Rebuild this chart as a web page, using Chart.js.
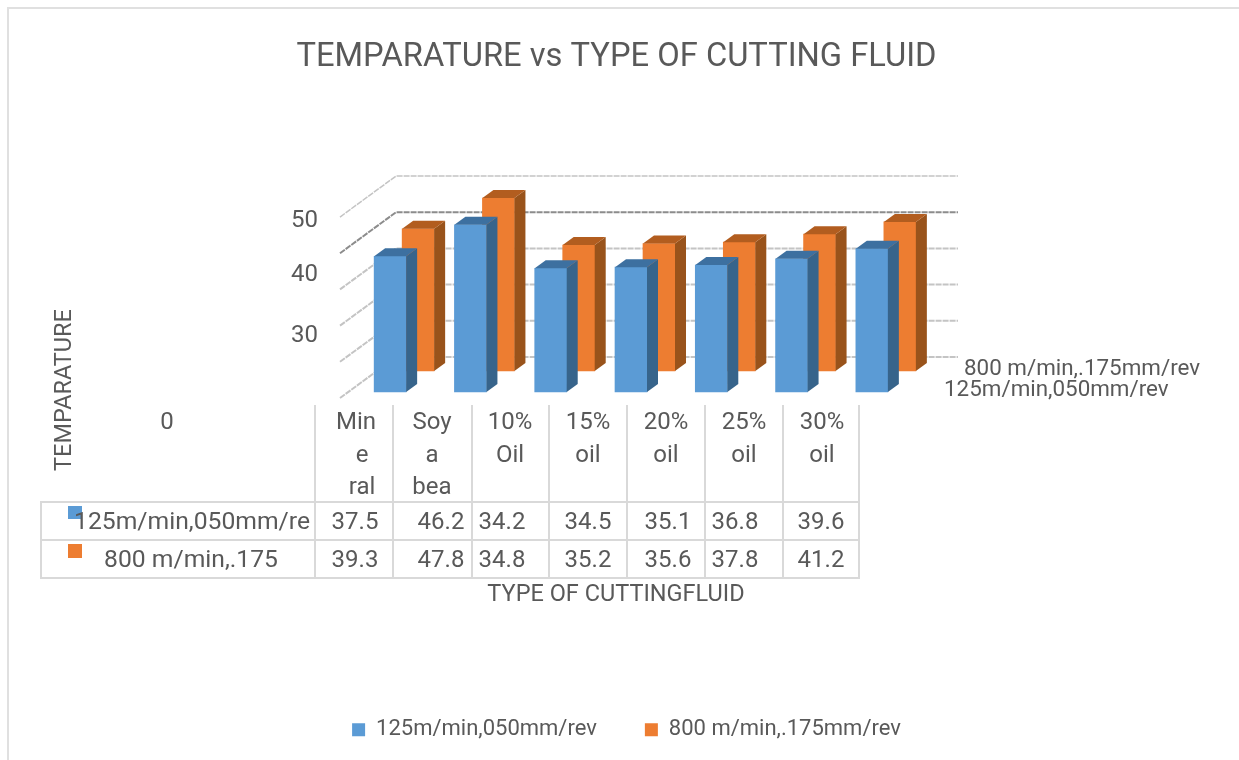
<!DOCTYPE html>
<html><head><meta charset="utf-8">
<style>html,body{margin:0;padding:0;background:#fff}canvas{display:block}</style>
<script src="https://cdn.jsdelivr.net/npm/chart.js@4"></script>
</head><body><canvas id="c" width="1239" height="760"></canvas>
<script>
const categories = ['Mineral','Soyabean','10% Oil','15% oil','20% oil','25% oil','30% oil'];
const headerLines = [['Min','e','ral'],['Soy','a','bea'],['10%','Oil'],['15%','oil'],['20%','oil'],['25%','oil'],['30%','oil']];
const seriesA = [37.5,46.2,34.2,34.5,35.1,36.8,39.6];
const seriesB = [39.3,47.8,34.8,35.2,35.6,37.8,41.2];
const seriesNames = ['125m/min,050mm/rev','800 m/min,.175mm/rev'];
const rowLabels = ['125m/min,050mm/re','800 m/min,.175'];
const yTickLabels = ['50','40','30'];
const titleText = 'TEMPARATURE vs TYPE OF CUTTING FLUID';
const xTitle = 'TYPE OF CUTTINGFLUID';
const yTitle = 'TEMPARATURE';

const FONT = 'Roboto, "Open Sans", sans-serif';
const TXT = '#595959';
const COL = {
  a:{front:'#5B9BD5',side:'#37648B',top:'#3D70A0'},
  b:{front:'#ED7D31',side:'#99531B',top:'#B25D1F'}
};
const DEPTH = {x:11,y:8};
const BACK = {x:28,y:-21};
const FONT_T = 24;

function put(ctx,s,x,y,size,align){
  ctx.font = size+'px '+FONT; ctx.fillStyle = TXT;
  ctx.textAlign = align||'center'; ctx.textBaseline='middle';
  ctx.fillText(s,x,y+2);
}
const scene = {
  id:'scene',
  afterLayout(chart){
    const l = chart.legend;
    l.left += 10; l.right += 10;
    l.top = 732 - 13.2 - chart.options.plugins.legend.labels.padding;
  },
  beforeDraw(chart){
    const ctx = chart.ctx;
    ctx.save();
    ctx.strokeStyle='#e0e0e0'; ctx.lineWidth=2;
    ctx.beginPath(); ctx.moveTo(8,760); ctx.lineTo(8,8); ctx.lineTo(1239,8); ctx.stroke();
    ctx.restore();
  },
  beforeDatasetsDraw(chart){
    const ctx = chart.ctx, y = chart.scales.y;
    ctx.save();
    ctx.setLineDash([6,1]);
    y.ticks.forEach(t=>{
      const p = y.getPixelForValue(t.value);
      const back = p-35, front = p+6;
      ctx.lineWidth = t.value===50 ? 1.5 : 2;
      ctx.strokeStyle = t.value===40 ? '#8c8c8c' : '#c4c4c4';
      ctx.beginPath(); ctx.moveTo(340,front); ctx.lineTo(396,back); ctx.lineTo(958,back); ctx.stroke();
    });
    ctx.restore();
  },
  beforeDatasetDraw(chart,args){
    const ctx = chart.ctx;
    ctx.save();
    if(args.index===1) ctx.translate(BACK.x,BACK.y);
  },
  afterDatasetDraw(chart,args){
    const ctx = chart.ctx;
    const c = args.index===0 ? COL.a : COL.b;
    args.meta.data.forEach(bar=>{
      const p = bar.getProps(['x','y','base','width'],true);
      const r = p.x+p.width/2, l = p.x-p.width/2;
      ctx.fillStyle = c.side;
      ctx.beginPath(); ctx.moveTo(r,p.y); ctx.lineTo(r+DEPTH.x,p.y-DEPTH.y); ctx.lineTo(r+DEPTH.x,p.base-DEPTH.y); ctx.lineTo(r,p.base); ctx.closePath(); ctx.fill();
      ctx.fillStyle = c.top;
      ctx.beginPath(); ctx.moveTo(l,p.y); ctx.lineTo(l+DEPTH.x,p.y-DEPTH.y); ctx.lineTo(r+DEPTH.x,p.y-DEPTH.y); ctx.lineTo(r,p.y); ctx.closePath(); ctx.fill();
    });
    ctx.restore();
  },
  afterDraw(chart){
    const ctx = chart.ctx;
    ctx.save();
    const vx = [315,393,472,549,627,705,783,859];
    ctx.strokeStyle='#d9d9d9'; ctx.lineWidth=2;
    ctx.beginPath();
    vx.forEach(x=>{ctx.moveTo(x,405);ctx.lineTo(x,578);});
    ctx.moveTo(41,501);ctx.lineTo(41,579);
    [502,540,578].forEach(y=>{ctx.moveTo(40,y);ctx.lineTo(860,y);});
    ctx.stroke();
    const hx = [[356,362,362],[432,432,432],[510,510],[588,588],[666,666],[744,744],[822,822]];
    headerLines.forEach((lines,i)=>lines.forEach((s,j)=>put(ctx,s,hx[i][j],421+j*32.5,FONT_T)));
    put(ctx,'0',167,421,FONT_T);
    ctx.fillStyle=COL.a.front; ctx.fillRect(68,506,14,13);
    ctx.fillStyle=COL.b.front; ctx.fillRect(68,544,14,14);
    put(ctx,rowLabels[0],192,521,24.7);
    put(ctx,rowLabels[1],191,559,24.7);
    const vc = [355,441,502,588,668,735,821];
    seriesA.forEach((v,i)=>put(ctx,v.toFixed(1),vc[i],521,FONT_T));
    seriesB.forEach((v,i)=>put(ctx,v.toFixed(1),vc[i],559,FONT_T));
    const yy = [217,271,332];
    yTickLabels.forEach((s,i)=>put(ctx,s,318,yy[i]+2,FONT_T,'right'));
    put(ctx,seriesNames[1],964,367,22.4,'left');
    put(ctx,seriesNames[0],944,388,22.4,'left');
    put(ctx,xTitle,616,593,23.5);
    ctx.save(); ctx.translate(63,390); ctx.rotate(-Math.PI/2); put(ctx,yTitle,0,0,23.5); ctx.restore();
    ctx.restore();
  }
};
new Chart(document.getElementById('c'),{
  type:'bar',
  data:{labels:categories,datasets:[
    {label:seriesNames[0],data:seriesA,backgroundColor:COL.a.front,order:1,clip:false,barThickness:32,grouped:false},
    {label:seriesNames[1],data:seriesB,backgroundColor:COL.b.front,order:2,clip:false,barThickness:32,grouped:false}
  ]},
  options:{
    responsive:false,animation:false,
    layout:{padding:{left:0,right:6,top:0,bottom:0}},
    scales:{
      x:{display:true,ticks:{display:false},grid:{display:false},border:{display:false},
         afterFit(s){s.height=288;}},
      y:{display:true,min:0,max:50,ticks:{display:false,stepSize:10},grid:{display:false},border:{display:false},
         afterFit(s){s.width=350;}},
      yRight:{axis:'y',type:'linear',position:'right',display:true,min:0,max:50,ticks:{display:false},grid:{display:false},border:{display:false},
         afterFit(s){s.width=321;}}
    },
    plugins:{
      title:{display:true,text:titleText,color:TXT,font:{family:FONT,size:32.7,weight:'normal',lineHeight:1.2},padding:{top:38,bottom:133.8}},
      legend:{display:true,position:'bottom',labels:{boxWidth:13,boxHeight:13,padding:48,color:TXT,font:{family:FONT,size:22}}},
      tooltip:{enabled:false}
    }
  },
  plugins:[scene]
});
</script></body></html>
